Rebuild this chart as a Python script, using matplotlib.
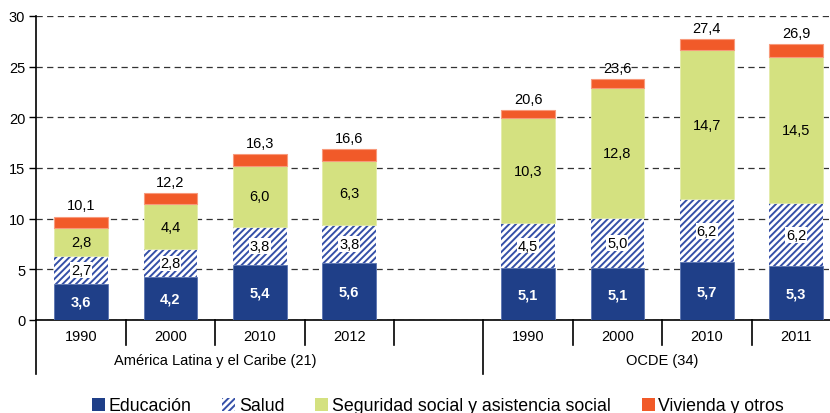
import matplotlib
matplotlib.use("Agg")
import matplotlib.pyplot as plt
import matplotlib.transforms as mtransforms
from matplotlib.patches import Patch

plt.rcParams['font.family'] = ['Liberation Sans', 'DejaVu Sans']
plt.rcParams['hatch.linewidth'] = 1.4

groups = ["América Latina y el Caribe (21)", "OCDE (34)"]
years = ["1990", "2000", "2010", "2012", "1990", "2000", "2010", "2011"]
educacion = [3.6, 4.2, 5.4, 5.6, 5.1, 5.1, 5.7, 5.3]
salud = [2.7, 2.8, 3.8, 3.8, 4.5, 5.0, 6.2, 6.2]
seguridad = [2.8, 4.4, 6.0, 6.3, 10.3, 12.8, 14.7, 14.5]
vivienda = [1.1, 1.1, 1.2, 1.2, 0.8, 0.9, 1.1, 1.2]
totales = [10.1, 12.2, 16.3, 16.6, 20.6, 23.6, 27.4, 26.9]
series_names = ["Educación", "Salud", "Seguridad social y asistencia social", "Vivienda y otros"]

positions = [0, 1, 2, 3, 5, 6, 7, 8]
group_centers = [1.5, 6.5]

c_edu = "#1F3F88"
c_sal = "#3550A8"
c_seg = "#D4E180"
c_viv = "#F15A29"

def fmt(v):
    return f"{v:.1f}".replace(".", ",")

W, H = 830, 414
fig = plt.figure(figsize=(W / 100, H / 100), dpi=100)
left_px, bottom_px, top_px = 36.3, 321, 17
ax = fig.add_axes([left_px / W, (H - bottom_px) / H, (W - left_px) / W, (bottom_px - top_px) / H])
ax_h = bottom_px - top_px
ax.set_xlim(-0.5, (W - left_px) / 89.4 - 0.5)
ax.set_ylim(0, 30)

bw = 0.6
ax.bar(positions, educacion, bw, color=c_edu, edgecolor="#5a74b0", linewidth=0.6, zorder=3)
bottom2 = [a for a in educacion]
ax.bar(positions, salud, bw, bottom=bottom2, facecolor="white", edgecolor=c_sal,
       hatch="/////", linewidth=0, zorder=3)
bottom3 = [a + b for a, b in zip(educacion, salud)]
ax.bar(positions, seguridad, bw, bottom=bottom3, color=c_seg, edgecolor="#e4ecaa", linewidth=0.6, zorder=3)
bottom4 = [a + b for a, b in zip(bottom3, seguridad)]
ax.bar(positions, vivienda, bw, bottom=bottom4, color=c_viv, edgecolor="#f89a7c", linewidth=0.8, zorder=3)

fs = 10.5
for x, v in zip(positions, educacion):
    ax.text(x, v / 2, fmt(v), ha="center", va="center", color="white",
            fontsize=fs, fontweight="bold", zorder=5)
for x, v, b in zip(positions, salud, bottom2):
    ax.text(x, b + v / 2, fmt(v), ha="center", va="center", color="black", fontsize=fs, zorder=5,
            bbox=dict(facecolor="white", edgecolor="none", pad=0.5))
for x, v, b in zip(positions, seguridad, bottom3):
    ax.text(x, b + v / 2, fmt(v), ha="center", va="center", color="black", fontsize=fs, zorder=5)
for x, t, b, v in zip(positions, totales, bottom4, vivienda):
    ax.annotate(fmt(t), (x, b + v), xytext=(0, 3), textcoords="offset points",
                ha="center", va="bottom", fontsize=fs, zorder=5)

ax.set_yticks(range(0, 31, 5))
ax.tick_params(axis="y", length=5, width=1, pad=3, labelsize=fs)
ax.yaxis.grid(True, linestyle=(0, (5, 3.5)), color="#333333", linewidth=0.9)
ax.set_axisbelow(True)
ax.set_xticks([])
for s in ["top", "right"]:
    ax.spines[s].set_visible(False)
ax.spines["left"].set_linewidth(1.2)
ax.spines["bottom"].set_linewidth(1.2)

trans = mtransforms.blended_transform_factory(ax.transData, ax.transAxes)
short = -25 / ax_h
tall = -54 / ax_h
ax.plot([0, 0], [0, tall], transform=ax.transAxes, color="black", lw=1.2, clip_on=False)
for sx in [0.5, 1.5, 2.5, 3.5, 5.5, 6.5, 7.5]:
    ax.plot([sx, sx], [0, short], transform=trans, color="black", lw=1.2, clip_on=False)
ax.plot([4.5, 4.5], [0, tall], transform=trans, color="black", lw=1.2, clip_on=False)

for x, y in zip(positions, years):
    ax.text(x, -16 / ax_h, y, transform=trans, ha="center", va="center", fontsize=fs)
for x, g in zip(group_centers, groups):
    ax.text(x, -40 / ax_h, g, transform=trans, ha="center", va="center", fontsize=fs)

handles = [
    Patch(facecolor=c_edu, edgecolor=c_edu, linewidth=0),
    Patch(facecolor="white", edgecolor=c_sal, hatch="/////", linewidth=0),
    Patch(facecolor=c_seg, edgecolor=c_seg, linewidth=0),
    Patch(facecolor=c_viv, edgecolor=c_viv, linewidth=0),
]
fig.legend(handles, series_names, loc="center", bbox_to_anchor=(438 / W, 7 / H), ncol=4,
           frameon=False, fontsize=12.8, handlelength=0.72, handleheight=0.72,
           handletextpad=0.2, columnspacing=1.75, borderaxespad=0, borderpad=0)

fig.savefig("out.png", dpi=100)
